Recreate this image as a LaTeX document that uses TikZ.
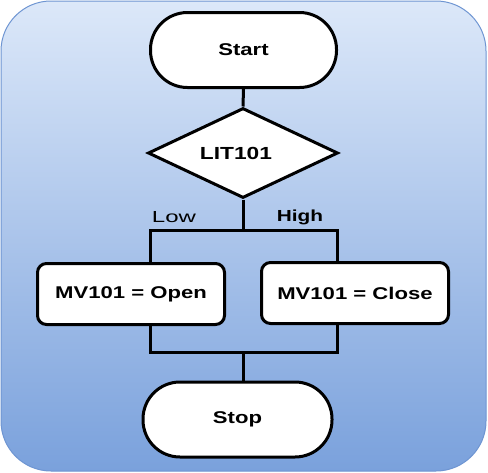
\documentclass[tikz,border=0pt]{standalone}
\usepackage{fontspec}
\setmainfont{Liberation Sans}[FakeStretch=1.3]
\newfontfamily\widefont{Liberation Sans}[FakeStretch=1.5]
\usetikzlibrary{shapes.geometric}
\definecolor{bgtop}{HTML}{DCE8F9}
\definecolor{bgbot}{HTML}{7AA1DC}
\definecolor{bgedge}{HTML}{6E95D2}
\tikzset{
  shape line/.style={draw=black, line width=3pt, fill=white},
  terminal/.style={shape line, rectangle, rounded corners=37pt, minimum width=186pt, minimum height=75pt, inner sep=0pt, font=\fontsize{17}{20}\selectfont\bfseries},
  decision/.style={shape line, diamond, minimum width=190pt, minimum height=90pt, aspect=2.1, inner sep=0pt, font=\fontsize{17.5}{20}\selectfont\bfseries},
  action/.style={shape line, rectangle, rounded corners=9pt, minimum width=187pt, minimum height=61pt, inner sep=0pt, font=\fontsize{17}{20}\selectfont\bfseries},
  link/.style={draw=black, line width=3pt},
  branch/.style={font=\fontsize{16}{19}\selectfont}
}
\begin{document}
\begin{tikzpicture}[x=1pt,y=-1pt]
\useasboundingbox (0,0) rectangle (488,472);
\path[top color=bgtop, bottom color=bgbot, draw=bgedge, line width=1pt, rounded corners=50pt] (1,1) rectangle (486,471);
\node[terminal] (start) at (243.5,50) {Start};
\node[decision] (dia) at (243,153) {\hspace*{-14pt}LIT101};
\node[action] (open) at (131,294) {MV101 = Open};
\node[action] (close) at (355,293) {MV101 = Close};
\node[terminal, minimum width=189pt] (stop) at (237.5,419.5) {Stop};
\coordinate (split) at (243,230);
\coordinate (L) at (150,230);
\coordinate (R) at (337,230);
\coordinate (L2) at (150,352);
\coordinate (R2) at (337,352);
\coordinate (join) at (243,352);
\node[branch, anchor=center] (low) at (174,217) {\widefont Low};
\node[branch, anchor=center] (high) at (300,217) {\bfseries High};
\draw[link] (start.south) -- (dia.north);
\draw[link] (dia.south) -- (split);
\draw[link, line cap=rect] (L) -- (R);
\draw[link] (L) -- (L |- open.north);
\draw[link] (R) -- (R |- close.north);
\draw[link] (L |- open.south) -- (L2);
\draw[link] (R |- close.south) -- (R2);
\draw[link, line cap=rect] (L2) -- (R2);
\draw[link] (join) -- (join |- stop.north);
\end{tikzpicture}
\end{document}
